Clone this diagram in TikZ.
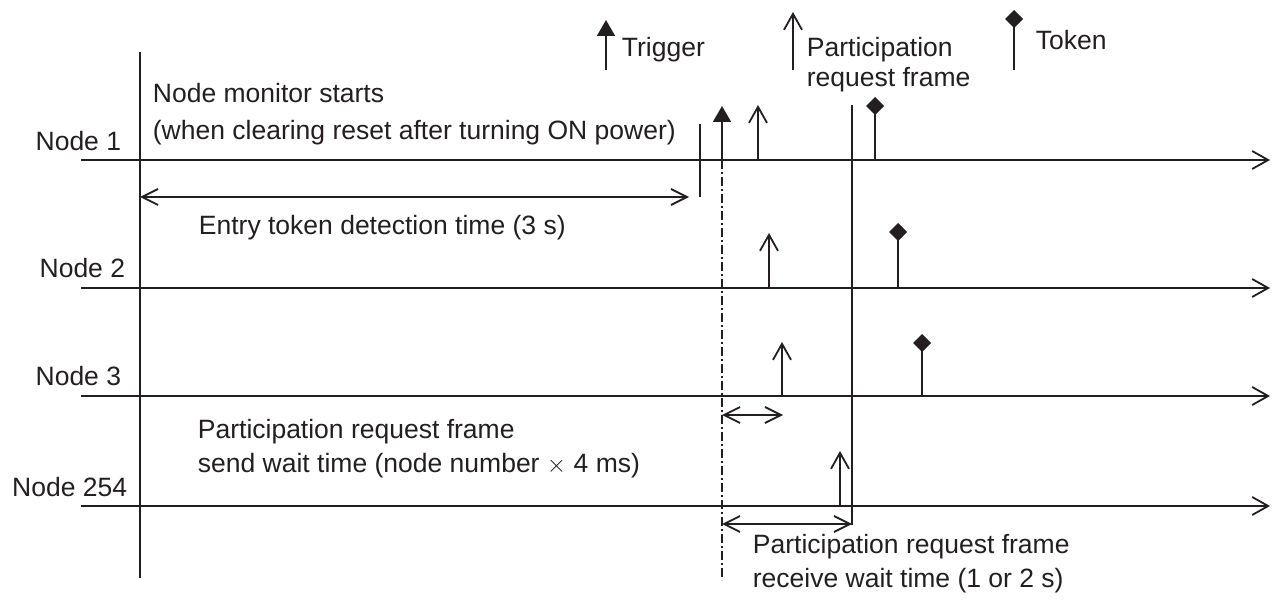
\documentclass[tikz,border=0pt]{standalone}
\usepackage{fontspec}
\setmainfont{Liberation Sans}
\usetikzlibrary{arrows.meta}
\definecolor{ink}{HTML}{231F20}
\newcommand\tokdiamond[1]{\fill[ink] (#1) ++(0,-9) -- ++(9,9) -- ++(-9,9) -- ++(-9,-9) -- cycle;}
\begin{document}
\begin{tikzpicture}[x=1pt,y=-1pt, line width=1.8pt,
  lbl/.style={font=\fontsize{26.5}{32}\selectfont, text=ink, inner sep=0pt, anchor=base west},
  lblr/.style={lbl, anchor=base east},
  ln/.style={draw=ink, line width=1.8pt},
  openarr/.style={ln, -{Straight Barb[length=16pt,width=18pt]}},
  dblarr/.style={ln, {Straight Barb[length=16pt,width=16pt]}-{Straight Barb[length=16pt,width=16pt]}},
  trigarr/.style={ln, -{Triangle[length=16pt,width=18pt]}},
  tokmark/.style={shape=coordinate},
  dd/.style={draw=ink, line width=1.4pt, dash pattern=on 9pt off 3pt on 2pt off 3pt}
]
\useasboundingbox (0,0) rectangle (1274,601);

% main vertical axis
\coordinate (axT) at (140,52);
\coordinate (axB) at (140,578);
\draw[ln] (axT) -- (axB);

% timelines
\foreach \n/\y in {1/160, 2/288, 3/396, 254/506}{
  \coordinate (s\n) at (81,\y);
  \coordinate (e\n) at (1270,\y);
  \draw[openarr] (s\n) -- (e\n);
}

% node labels
\node[lblr] (L1) at (122,151) {Node 1};
\node[lblr] (L2) at (126,278) {Node 2};
\node[lblr] (L3) at (122,385) {Node 3};
\node[lblr] (L254) at (128,496) {Node 254};

% legend
\coordinate (gtb) at (606,70);
\coordinate (gtt) at (606,20);
\draw[trigarr] (gtb) -- (gtt);
\node[lbl] (gtl) at (621,57) {Trigger};
\coordinate (gpb) at (793,70);
\coordinate (gpt) at (793,12);
\draw[openarr] (gpb) -- (gpt);
\node[lbl] (gpl1) at (806,57) {Participation};
\node[lbl] (gpl2) at (806,87) {request frame};
\coordinate (gkb) at (1014,70);
\node[tokmark] (gk) at (1014,19) {};
\draw[ln] (gkb) -- (gk);
\tokdiamond{gk}
\node[lbl] (gkl) at (1035,50) {Token};

% node monitor text
\node[lbl] (nm1) at (152,103) {Node monitor starts};
\node[lbl] (nm2) at (152,140) {(when clearing reset after turning ON power)};

% entry token detection
\coordinate (etA) at (140,197);
\coordinate (etB) at (689,197);
\draw[dblarr] (etA) -- (etB);
\coordinate (etT) at (700,124);
\coordinate (etD) at (700,197);
\draw[ln] (etT) -- (etD);
\node[lbl] (etl) at (198,235) {Entry token detection time (3 s)};

% trigger on node 1 and dash-dot line
\coordinate (tr1) at (722,106);
\coordinate (trb) at (722,160);
\draw[trigarr] (trb) -- (tr1);
\coordinate (ddB) at (722,580);
\draw[dd] (trb) -- (ddB);

% participation request frames
\foreach \n/\x/\y/\t in {1/758/160/105, 2/769/288/233, 3/782/396/342, 254/840/506/451}{
  \coordinate (pb\n) at (\x,\y);
  \coordinate (pt\n) at (\x,\t);
  \draw[openarr] (pb\n) -- (pt\n);
}

% tokens
\foreach \n/\x/\y/\t in {1/875/160/106, 2/898/288/232, 3/922/396/343}{
  \coordinate (kb\n) at (\x,\y);
  \node[tokmark] (k\n) at (\x,\t) {};
  \draw[ln] (kb\n) -- (k\n);
  \tokdiamond{k\n}
}

% long vertical at receive wait end
\coordinate (rvT) at (852,105);
\coordinate (rvB) at (852,525);
\draw[ln] (rvT) -- (rvB);

% send wait
\coordinate (swA) at (722,415);
\coordinate (swB) at (783,415);
\draw[dblarr] (swA) -- (swB);
\node[lbl] (sw1) at (197,438) {Participation request frame};
\node[lbl] (sw2) at (197,472) {send wait time (node number $\times$ 4 ms)};

% receive wait
\coordinate (rwA) at (722,524);
\coordinate (rwB) at (852,524);
\draw[dblarr] (rwA) -- (rwB);
\node[lbl] (rw1) at (752,553) {Participation request frame};
\node[lbl] (rw2) at (752,587) {receive wait time (1 or 2 s)};
\end{tikzpicture}
\end{document}
